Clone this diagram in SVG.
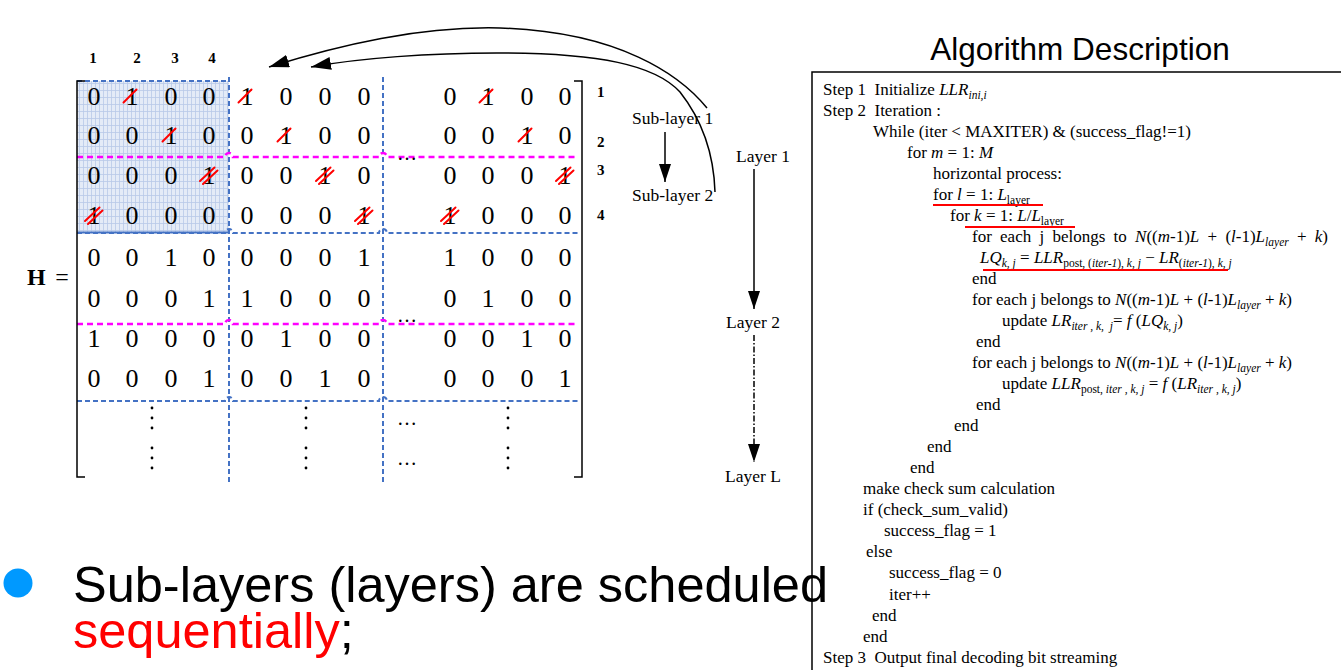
<svg xmlns="http://www.w3.org/2000/svg" width="1341" height="670" viewBox="0 0 1341 670">
  <style>
    .d{font-family:"Liberation Serif","Times New Roman",serif;font-size:26px;fill:#000;text-anchor:middle}
    .bn{font-family:"Liberation Serif","Times New Roman",serif;font-size:15px;font-weight:bold;fill:#000}
    .lab{font-family:"Liberation Serif","Times New Roman",serif;font-size:17.5px;fill:#000}
    .alg{font-family:"Liberation Serif","Times New Roman",serif;font-size:17px;fill:#000}
    .ell{font-family:"Liberation Serif","Times New Roman",serif;font-size:20px;fill:#000}
    .i{font-style:italic}
    .s{font-size:11.5px}
    .bd{stroke:#4472c4;stroke-width:2;stroke-dasharray:5 3;fill:none}
    .md{stroke:#ff00ff;stroke-width:2.5;stroke-dasharray:6 4;fill:none}
    .st{stroke:#ff0000;stroke-width:2;stroke-linecap:round;fill:none}
    .ul{stroke:#ff0000;stroke-width:2}
    .br{stroke:#000;stroke-width:1.5;fill:none}
    .cn{stroke:#000;stroke-width:1.5;fill:none}
    .big{font-family:"Liberation Sans",Arial,sans-serif;font-size:50.5px}
  </style>
  <defs>
    <pattern id="grid" width="4" height="7" patternUnits="userSpaceOnUse">
      <rect width="4" height="7" fill="#e4ebf7"/>
      <path d="M3.5 0V7M0 6.5H4" stroke="#b9c9e8" stroke-width="0.8"/>
    </pattern>
    <marker id="ah" viewBox="0 0 20 13" refX="20" refY="6.5" markerWidth="20" markerHeight="13" orient="auto" markerUnits="userSpaceOnUse">
      <path d="M0,0 L20,6.5 L0,13 z" fill="#000"/>
    </marker>
    <marker id="av" viewBox="0 0 18 12" refX="18" refY="6" markerWidth="18" markerHeight="12" orient="auto" markerUnits="userSpaceOnUse">
      <path d="M0,0 L18,6 L0,12 z" fill="#000"/>
    </marker>
    <path id="sl" d="M-8.5,-2.5 L4.5,-15.5"/>
    <g id="dsl">
      <path d="M-9,-3 L5.5,-16.5"/>
      <path d="M-6,0 L8.5,-13.5"/>
    </g>
  </defs>

  <rect width="1341" height="670" fill="#fff"/>

  <!-- parity-check matrix H -->
  <g id="matrix">
    <rect x="77" y="81" width="152" height="152" fill="url(#grid)"/>
    <line x1="77" y1="232.5" x2="229" y2="232.5" stroke="#4472c4" stroke-width="2"/>

    <!-- block separators -->
    <path class="bd" d="M77 81H229"/>
    <path class="bd" d="M229 77V485"/>
    <path class="bd" d="M383 77V485"/>
    <path class="bd" d="M77 233H225a4 4 0 0 1 8 0H379a4 4 0 0 1 8 0H578"/>
    <path class="bd" d="M77 401H225a4 4 0 0 1 8 0H379a4 4 0 0 1 8 0H578"/>
    <path class="md" d="M77 157H225a4 4 0 0 1 8 0H379a4 4 0 0 1 8 0H578"/>
    <path class="md" d="M77 324H225a4 4 0 0 1 8 0H379a4 4 0 0 1 8 0H578"/>

    <!-- brackets -->
    <path class="br" d="M85 81H77V477H85"/>
    <path class="br" d="M574 81H582V477H574"/>

    <text class="bn" x="27" y="285" style="font-size:24px">H</text>
    <text class="d" x="62" y="285" style="font-size:24px">=</text>

    <g class="bn" text-anchor="middle">
      <text x="93" y="63">1</text>
      <text x="137" y="63">2</text>
      <text x="175" y="63">3</text>
      <text x="212" y="63">4</text>
    </g>
    <g class="bn">
      <text x="597" y="97">1</text>
      <text x="597" y="147">2</text>
      <text x="597" y="175">3</text>
      <text x="597" y="220">4</text>
    </g>

    <g class="d">
      <text x="94 132 171 209 247 286 325 364 450 488 527 565" y="105">010010000100</text>
      <text x="94 132 171 209 247 286 325 364 450 488 527 565" y="144">001001000010</text>
      <text x="94 132 171 209 247 286 325 364 450 488 527 565" y="184">000100100001</text>
      <text x="94 132 171 209 247 286 325 364 450 488 527 565" y="224">100000011000</text>
      <text x="94 132 171 209 247 286 325 364 450 488 527 565" y="266">001000011000</text>
      <text x="94 132 171 209 247 286 325 364 450 488 527 565" y="307">000110000100</text>
      <text x="94 132 171 209 247 286 325 364 450 488 527 565" y="347">100001000010</text>
      <text x="94 132 171 209 247 286 325 364 450 488 527 565" y="387">000100100001</text>
    </g>

    <!-- processed entries -->
    <g class="st">
      <use href="#sl" x="132" y="105"/>
      <use href="#sl" x="247" y="105"/>
      <use href="#sl" x="488" y="105"/>
      <use href="#sl" x="171" y="144"/>
      <use href="#sl" x="286" y="144"/>
      <use href="#sl" x="527" y="144"/>
      <use href="#dsl" x="209" y="184"/>
      <use href="#dsl" x="325" y="184"/>
      <use href="#dsl" x="565" y="184"/>
      <use href="#dsl" x="94" y="224"/>
      <use href="#dsl" x="364" y="224"/>
      <use href="#dsl" x="450" y="224"/>
    </g>

    <g class="ell">
      <text x="397" y="160">…</text>
      <text x="397" y="322">…</text>
      <text x="397" y="425">…</text>
      <text x="397" y="465">…</text>
    </g>
    <g fill="#000">
      <circle cx="152" cy="408" r="1.4"/><circle cx="152" cy="418" r="1.4"/><circle cx="152" cy="428" r="1.4"/>
      <circle cx="152" cy="448" r="1.4"/><circle cx="152" cy="458" r="1.4"/><circle cx="152" cy="468" r="1.4"/>
      <circle cx="306" cy="408" r="1.4"/><circle cx="306" cy="418" r="1.4"/><circle cx="306" cy="428" r="1.4"/>
      <circle cx="306" cy="448" r="1.4"/><circle cx="306" cy="458" r="1.4"/><circle cx="306" cy="468" r="1.4"/>
      <circle cx="508" cy="408" r="1.4"/><circle cx="508" cy="418" r="1.4"/><circle cx="508" cy="428" r="1.4"/>
      <circle cx="508" cy="448" r="1.4"/><circle cx="508" cy="458" r="1.4"/><circle cx="508" cy="468" r="1.4"/>
    </g>
  </g>

  <g id="sublayer1"><text class="lab" x="632" y="124">Sub-layer 1</text></g>
  <g id="sublayer2"><text class="lab" x="632" y="201">Sub-layer 2</text></g>
  <g id="layer1"><text class="lab" x="736" y="162">Layer 1</text></g>
  <g id="layer2"><text class="lab" x="726" y="328">Layer 2</text></g>
  <g id="layerL"><text class="lab" x="725" y="482">Layer L</text></g>

  <!-- connectors -->
  <g id="connectors">
    <path class="cn" d="M707,108 C680,75 620,32 500,28 C420,26 340,45 269,67" marker-end="url(#ah)"/>
    <path class="cn" d="M715,192 C714,160 706,125 680,92 C655,65 600,53 497,53 C430,53 360,58 311,67" marker-end="url(#ah)"/>
    <path class="cn" d="M665,132 V182" marker-end="url(#av)"/>
    <path class="cn" d="M754,169 V309" marker-end="url(#av)"/>
    <path class="cn" d="M754,335 V462" stroke-width="1" stroke-dasharray="6 2 1.5 2" marker-end="url(#av)"/>
  </g>

  <!-- algorithm panel -->
  <g id="algorithm">
    <text x="1080" y="60" text-anchor="middle" style="font-family:'Liberation Sans',Arial,sans-serif;font-size:31.5px" fill="#000">Algorithm Description</text>
    <rect x="812" y="72" width="620" height="640" fill="#fff" stroke="#000" stroke-width="1.5"/>
    <g class="alg">
      <text x="823" y="95" xml:space="preserve">Step 1  Initialize <tspan class="i">LLR</tspan><tspan class="i s" dy="4">ini,i</tspan></text>
      <text x="823" y="116" xml:space="preserve">Step 2  Iteration :</text>
      <text x="873" y="137">While (iter &lt; MAXITER) &amp; (success_flag!=1)</text>
      <text x="907" y="158" xml:space="preserve">for <tspan class="i">m</tspan> = 1: <tspan class="i">M</tspan></text>
      <text x="933" y="179">horizontal process:</text>
      <text x="933" y="200" xml:space="preserve">for <tspan class="i">l</tspan> = 1: <tspan class="i">L</tspan><tspan class="s" dy="4">layer</tspan></text>
      <text x="950" y="221" xml:space="preserve">for <tspan class="i">k</tspan> = 1: <tspan class="i">L</tspan>/<tspan class="i">L</tspan><tspan class="s" dy="4">layer</tspan></text>
      <text x="972" y="242" xml:space="preserve" word-spacing="4">for each j belongs to <tspan class="i">N</tspan>((<tspan class="i">m</tspan>-1)<tspan class="i">L</tspan> + (<tspan class="i">l</tspan>-1)<tspan class="i">L</tspan><tspan class="i s" dy="4">layer</tspan><tspan dy="-4"> + </tspan><tspan class="i">k</tspan>)</text>
      <text x="980" y="263" xml:space="preserve"><tspan class="i">LQ</tspan><tspan class="i s" dy="4">k, j</tspan><tspan dy="-4"> = </tspan><tspan class="i">LLR</tspan><tspan class="s" dy="4">post, (</tspan><tspan class="i s">iter-1</tspan><tspan class="s">), </tspan><tspan class="i s">k, j</tspan><tspan dy="-4"> − </tspan><tspan class="i">LR</tspan><tspan class="s" dy="4">(</tspan><tspan class="i s">iter-1</tspan><tspan class="s">), </tspan><tspan class="i s">k, j</tspan></text>
      <text x="972" y="284">end</text>
      <text x="972" y="305" xml:space="preserve">for each j belongs to <tspan class="i">N</tspan>((<tspan class="i">m</tspan>-1)<tspan class="i">L</tspan> + (<tspan class="i">l</tspan>-1)<tspan class="i">L</tspan><tspan class="i s" dy="4">layer</tspan><tspan dy="-4"> + </tspan><tspan class="i">k</tspan>)</text>
      <text x="1002" y="326" xml:space="preserve">update <tspan class="i">LR</tspan><tspan class="i s" dy="4">iter , k,  j</tspan><tspan dy="-4">= </tspan><tspan class="i">f</tspan> (<tspan class="i">LQ</tspan><tspan class="i s" dy="4">k, j</tspan><tspan dy="-4">)</tspan></text>
      <text x="976" y="347">end</text>
      <text x="972" y="368" xml:space="preserve">for each j belongs to <tspan class="i">N</tspan>((<tspan class="i">m</tspan>-1)<tspan class="i">L</tspan> + (<tspan class="i">l</tspan>-1)<tspan class="i">L</tspan><tspan class="i s" dy="4">layer</tspan><tspan dy="-4"> + </tspan><tspan class="i">k</tspan>)</text>
      <text x="1002" y="389" xml:space="preserve">update <tspan class="i">LLR</tspan><tspan class="s" dy="4">post, </tspan><tspan class="i s">iter , k, j</tspan><tspan dy="-4"> = </tspan><tspan class="i">f</tspan> (<tspan class="i">LR</tspan><tspan class="i s" dy="4">iter , k, j</tspan><tspan dy="-4">)</tspan></text>
      <text x="976" y="410">end</text>
      <text x="954" y="431">end</text>
      <text x="927" y="452">end</text>
      <text x="910" y="473">end</text>
      <text x="863" y="494">make check sum calculation</text>
      <text x="863" y="515">if (check_sum_valid)</text>
      <text x="884" y="536">success_flag = 1</text>
      <text x="866" y="557">else</text>
      <text x="889" y="578">success_flag = 0</text>
      <text x="889" y="600">iter++</text>
      <text x="872" y="621">end</text>
      <text x="863" y="642">end</text>
      <text x="823" y="663" xml:space="preserve">Step 3  Output final decoding bit streaming</text>
    </g>
    <g class="ul">
      <line x1="933" y1="205" x2="1043" y2="205"/>
      <line x1="965" y1="227" x2="1075" y2="227"/>
      <line x1="983" y1="270" x2="1228" y2="270"/>
    </g>
  </g>

  <!-- bullet statement -->
  <g id="bullet">
    <circle cx="18" cy="583" r="14.5" fill="#0099ff"/>
    <text class="big" x="73" y="602" fill="#000">Sub-layers (layers) are scheduled</text>
    <text class="big" x="73" y="648" fill="#000"><tspan fill="#ff0000">sequentially</tspan>;</text>
  </g>
</svg>
